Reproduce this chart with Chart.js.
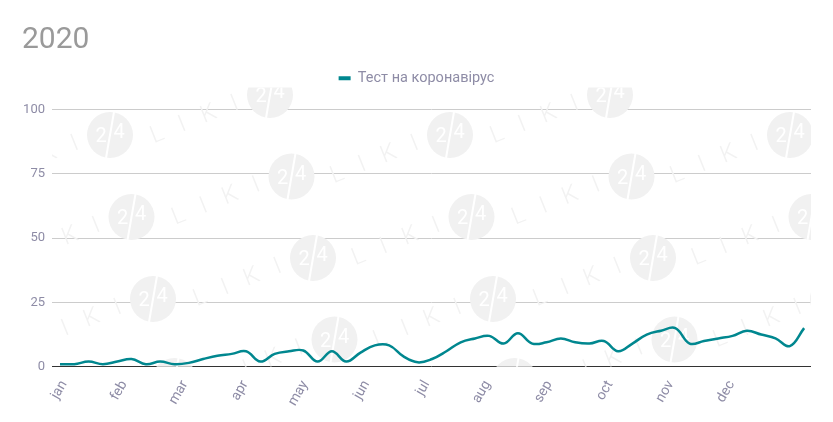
<!DOCTYPE html>
<html>
<head>
<meta charset="utf-8">
<script src="https://cdn.jsdelivr.net/npm/chart.js@4"></script>
<style>
  html, body { margin: 0; padding: 0; background: #fff; }
  #wrap { width: 833px; height: 422px; }
</style>
</head>
<body>
<div id="wrap"><canvas id="chartCovid"></canvas></div>
<script>
// weekly tests, 2020
const weeks = [0, 1, 2, 3, 4, 5, 6, 7, 8, 9, 10, 11, 12, 13, 14, 15, 16, 17, 18, 19, 20, 21, 22, 23, 24, 25, 26,
  27, 28, 29, 30, 31, 32, 33, 34, 35, 36, 37, 38, 39, 40, 41, 42, 43, 44, 45, 46, 47, 48, 49, 50, 51, 52];
const testValues = [1, 1, 2, 1, 2, 3, 1, 2, 1, 1.5, 3, 4.3, 5, 6, 2, 5, 6, 6.3, 2, 6, 2, 5.5, 8.3, 8.3, 4, 1.7, 3,
  6, 9.5, 11, 12, 9, 13, 9, 9.5, 11, 9.5, 9, 10, 6, 9, 12.5, 14, 15, 9, 10, 11, 12, 14, 12.5, 11, 8, 15];
const monthLabels = ['jan', 'feb', 'mar', 'apr', 'may', 'jun', 'jul', 'aug', 'sep', 'oct', 'nov', 'dec'];
const monthTicks = [0, 4.2, 8.45, 12.65, 16.85, 21.15, 25.35, 29.6, 33.9, 38.15, 42.4, 46.65];
const yTicks = [0, 25, 50, 75, 100];

const teal = '#00878f';
const axisText = '#8e8ca6';

// faint "LIKI 24" watermark behind the plot
const watermark = {
    id: 'watermark',
    beforeDatasetsDraw(chart) {
        const ctx = chart.ctx;
        const area = chart.chartArea;
        ctx.save();
        ctx.beginPath();
        ctx.rect(area.left, area.top - 22, area.right - area.left, area.bottom - area.top + 22);
        ctx.clip();
        const spots = [];
        for (let m = -1; m < 3; m++) {
            for (let k = 0; k < 4; k++) {
                spots.push([110 + 340 * m + 21.5 * k, 135 + 82 * k]);
                spots.push([270 + 340 * m + 21.5 * k, 95 + 81.5 * k]);
            }
        }
        spots.forEach(function (p) {
            const x = p[0], y = p[1];
            ctx.setTransform(1, 0, 0, 1, 0, 0);
            ctx.fillStyle = '#f1f1f1';
            ctx.beginPath();
            ctx.arc(x, y, 23, 0, Math.PI * 2);
            ctx.fill();
            ctx.strokeStyle = '#fff';
            ctx.lineWidth = 2;
            ctx.beginPath();
            ctx.moveTo(x + 4, y - 23);
            ctx.lineTo(x - 4, y + 23);
            ctx.stroke();
            ctx.fillStyle = '#fff';
            ctx.font = '20px Roboto';
            ctx.textAlign = 'center';
            ctx.textBaseline = 'middle';
            ctx.fillText('2', x - 9, y + 2);
            ctx.fillText('4', x + 9, y - 2);
            ctx.translate(x - 32, y + 8);
            ctx.rotate(-0.38);
            ctx.fillStyle = '#f2f2f2';
            ctx.font = '300 24px Roboto';
            ctx.textAlign = 'right';
            ctx.fillText('L   I   K   I', 0, 0);
        });
        ctx.restore();
    }
};

// extra room under the legend
const legendGap = {
    id: 'legendGap',
    beforeInit(chart) {
        const fit = chart.legend.fit;
        chart.legend.fit = function () {
            fit.bind(chart.legend)();
            this.height += 14;
        };
    }
};

const ctxCovid = document.getElementById('chartCovid').getContext('2d');
const chartCovid = new Chart(ctxCovid, {
    type: 'line',
    data: {
        datasets: [{
            label: 'Тест на коронавірус',
            data: weeks.map(function (w, i) { return { x: w, y: testValues[i] }; }),
            borderColor: teal,
            backgroundColor: teal,
            borderWidth: 2.5,
            pointRadius: 0,
            tension: 0.4,
            fill: false
        }]
    },
    options: {
        responsive: true,
        maintainAspectRatio: false,
        animation: false,
        layout: { padding: { left: 22, right: 22, top: 22, bottom: 10 } },
        plugins: {
            title: {
                display: true,
                text: '2020',
                align: 'start',
                color: '#9a9a9a',
                font: { family: 'Roboto', size: 30, weight: 'normal' },
                padding: { top: 0, bottom: 3 }
            },
            legend: {
                display: true,
                labels: {
                    boxWidth: 12,
                    boxHeight: 4,
                    color: axisText,
                    font: { family: 'Roboto', size: 14.5 },
                    padding: 10,
                    generateLabels: function (chart) {
                        const items = Chart.defaults.plugins.legend.labels.generateLabels(chart);
                        items.forEach(function (it) { it.lineWidth = 0; });
                        return items;
                    }
                }
            },
            tooltip: { enabled: false }
        },
        scales: {
            x: {
                type: 'linear',
                min: -0.56,
                max: 52.48,
                grid: { display: false },
                border: { display: false },
                afterBuildTicks: function (axis) {
                    axis.ticks = monthTicks.map(function (v) { return { value: v }; });
                },
                ticks: {
                    autoSkip: false,
                    minRotation: 60,
                    maxRotation: 60,
                    labelOffset: 4,
                    color: axisText,
                    font: { family: 'Roboto', size: 14 },
                    callback: function (value) {
                        const i = monthTicks.indexOf(value);
                        return i >= 0 ? monthLabels[i] : '';
                    }
                }
            },
            y: {
                min: 0,
                max: 100,
                afterFit: function (axis) { axis.width = 30; },
                afterBuildTicks: function (axis) {
                    axis.ticks = yTicks.map(function (v) { return { value: v }; });
                },
                grid: {
                    drawTicks: false,
                    color: function (c) { return c.tick && c.tick.value === 0 ? '#333' : '#cccccc'; },
                    lineWidth: 1
                },
                border: { display: false },
                ticks: {
                    padding: 7,
                    color: axisText,
                    font: { family: 'Roboto', size: 13 }
                }
            }
        }
    },
    plugins: [watermark, legendGap]
});
</script>
</body>
</html>
